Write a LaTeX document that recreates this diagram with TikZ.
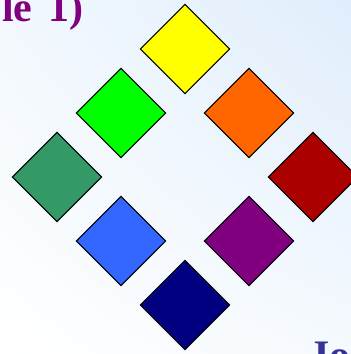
\documentclass[tikz,border=0pt]{standalone}
\usepackage{fontspec}
\setmainfont{Liberation Serif}
\usetikzlibrary{shadings}
\definecolor{Sun}{HTML}{FFFF00}
\definecolor{Lime}{HTML}{00FF00}
\definecolor{Amber}{HTML}{FF6600}
\definecolor{Sea}{HTML}{339966}
\definecolor{Wine}{HTML}{AA0000}
\definecolor{Sky}{HTML}{3366FF}
\definecolor{Plum}{HTML}{800080}
\definecolor{Ink}{HTML}{000080}
\definecolor{Title}{HTML}{800080}
\definecolor{Name}{HTML}{333399}
\definecolor{Mist}{HTML}{E0EEFC}
\tikzset{tile/.style={draw=black,line width=1pt,rotate=45,minimum size=63pt,inner sep=0pt},caption/.style={font=\fontsize{42}{46}\bfseries\selectfont,inner sep=0pt}}

\begin{document}
\begin{tikzpicture}[x=1pt,y=1pt]
\useasboundingbox (0,0) rectangle (351,354);
\clip (0,0) rectangle (351,354);
\shade[lower left=white,upper left=white!60!Mist,lower right=white!70!Mist,upper right=Mist] (0,0) rectangle (351,354);
\node[caption,text=Title,anchor=base west] (title) at (2,332) {le\hspace{5pt} 1)};
\node[caption,text=Name,anchor=base west] (name) at (308,-16) {Jo};
\node[tile,fill=Sun] (yellow) at (185,305) {};
\node[tile,fill=Lime] (green) at (121,241) {};
\node[tile,fill=Amber] (orange) at (249,241) {};
\node[tile,fill=Sea] (teal) at (57,177) {};
\node[tile,fill=Wine] (red) at (313,177) {};
\node[tile,fill=Sky] (blue) at (121,113) {};
\node[tile,fill=Plum] (purple) at (249,113) {};
\node[tile,fill=Ink] (navy) at (185,49) {};
\end{tikzpicture}
\end{document}
